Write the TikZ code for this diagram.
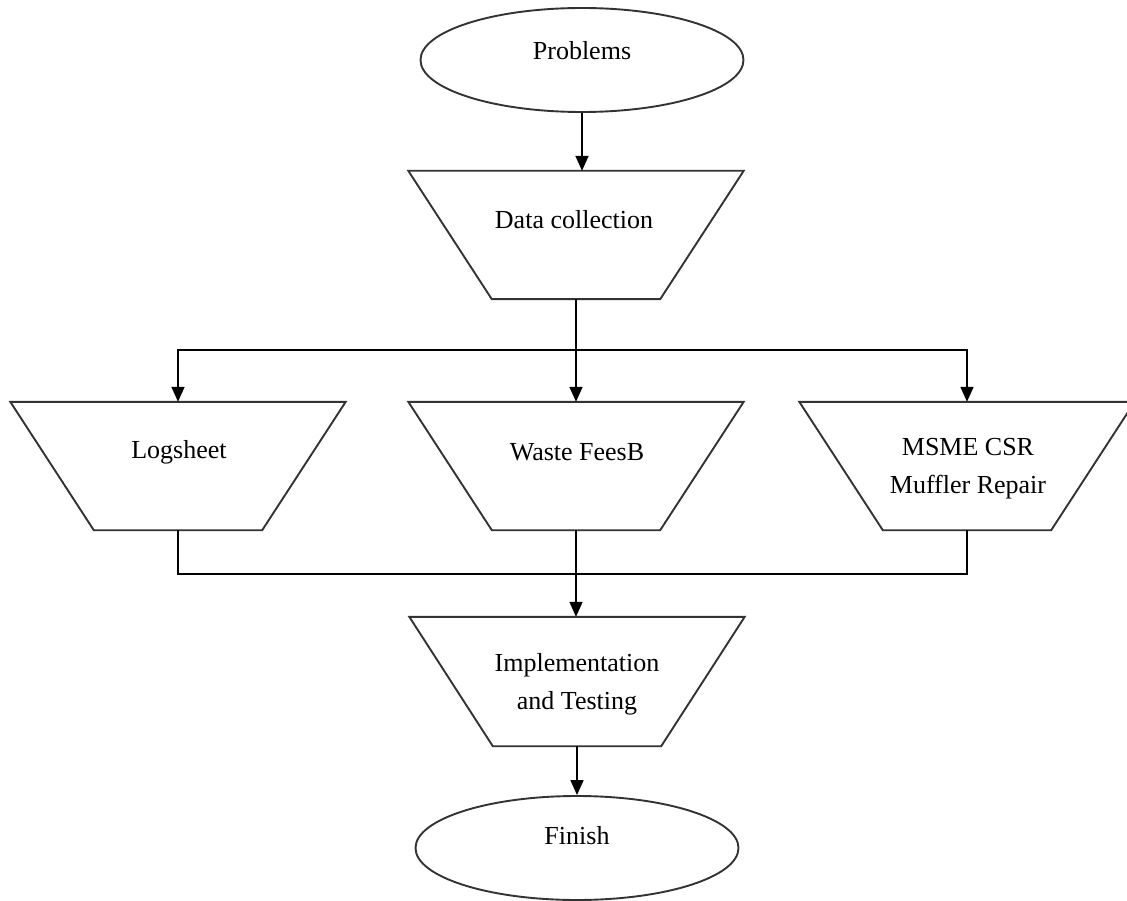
\documentclass[tikz,border=0pt]{standalone}
\usepackage{fontspec}
\setmainfont{Liberation Serif}
\usetikzlibrary{arrows.meta,shapes.geometric,calc}
\begin{document}
\begin{tikzpicture}[x=1pt,y=-1pt,
  shapeline/.style={draw=black!80,line width=1.9pt,line join=miter},
  conn/.style={draw=black,line width=1.7pt},
  arr/.style={conn,-{Triangle[length=15pt,width=13pt]}},
  oval/.style={ellipse,shapeline,inner sep=0pt,minimum width=323pt,minimum height=104pt},
  trapbox/.style={rectangle,inner sep=0pt,minimum width=335pt,minimum height=128pt},
  lbl/.style={font=\fontsize{26}{38}\selectfont,align=center,inner sep=0pt}]
\useasboundingbox (0,0) rectangle (1127,901);
\newcommand\trapdraw[1]{\draw[shapeline] (#1.north west) -- (#1.north east) -- ([xshift=-83.5pt]#1.south east) -- ([xshift=83.5pt]#1.south west) -- cycle;}
% ovals
\node[oval] (prob) at (582,60) {};
\node[lbl] (probt) at (582,51) {Problems};
\node[oval] (fin) at (577,848) {};
\node[lbl] (fint) at (577,836) {Finish};
% trapezoids
\node[trapbox] (dc) at (576,235) {};
\trapdraw{dc}
\node[lbl] (dct) at (574,220) {Data collection};
\node[trapbox] (log) at (178,466) {};
\trapdraw{log}
\node[lbl] (logt) at (179,452) {Logsheet};
\node[trapbox] (waste) at (576,466) {};
\trapdraw{waste}
\node[lbl] (wastet) at (577,452) {Waste FeesB};
\node[trapbox] (msme) at (967,466) {};
\trapdraw{msme}
\node[lbl] (msmet) at (968,469) {MSME CSR\\Muffler Repair};
\node[trapbox,minimum height=129pt] (impl) at (577,681.5) {};
\trapdraw{impl}
\node[lbl] (implt) at (577,684) {Implementation\\and Testing};
% connectors
\coordinate (split) at (576,350);
\coordinate (join) at (576,574);
\draw[arr] (prob.south) -- (prob.south |- dc.north);
\draw[conn] (dc.south) -- (split);
\draw[arr] (split) -| (log.north);
\draw[arr] (split) -| (msme.north);
\draw[arr] (split) -- (split |- waste.north);
\draw[conn] (log.south) |- (join);
\draw[conn] (msme.south) |- (join);
\draw[arr] (waste.south) -- (waste.south |- impl.north);
\draw[arr] (impl.south) -- (impl.south |- fin.north);
\end{tikzpicture}
\end{document}
